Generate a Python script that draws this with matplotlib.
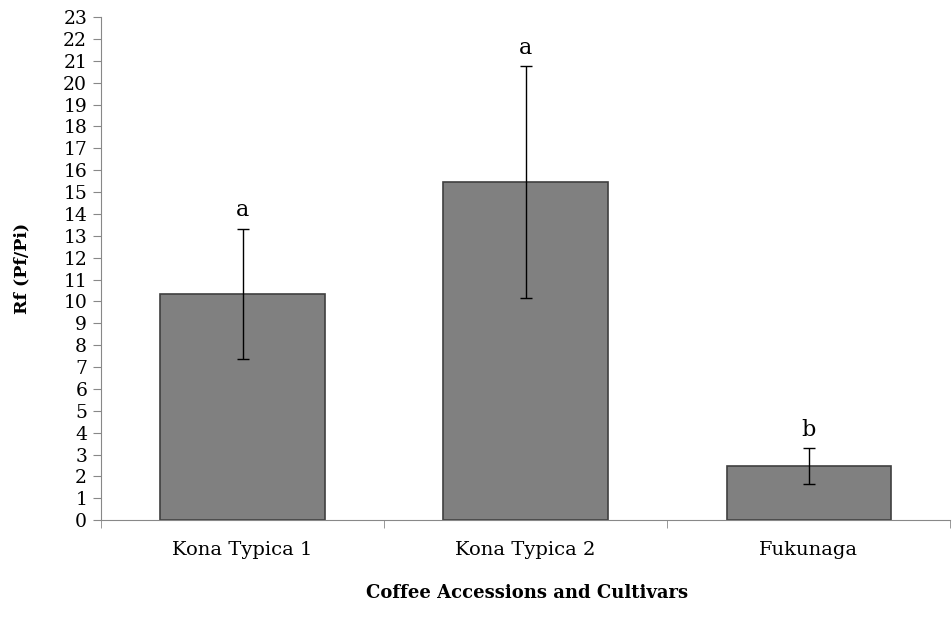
import matplotlib
matplotlib.use("Agg")
import matplotlib.pyplot as plt
import numpy as np

# Data
cultivars = ["Kona Typica 1", "Kona Typica 2", "Fukunaga"]
rf_means = [10.35, 15.45, 2.47]
rf_se = [2.98, 5.3, 0.82]
letters = ["a", "a", "b"]

plt.rcParams['font.family'] = ['DejaVu Serif']

fig = plt.figure(figsize=(9.53, 6.32), dpi=100)
ax = fig.add_axes([0.106, 0.177, 0.891, 0.796])

x = np.arange(len(cultivars))
ax.bar(x, rf_means, width=0.58, color="#808080", edgecolor="#404040", linewidth=1.2, zorder=2)
ax.errorbar(x, rf_means, yerr=rf_se, fmt="none", ecolor="black", elinewidth=1,
            capsize=4, capthick=1, zorder=3)

# Significance letters
for xi, m, s, lab in zip(x, rf_means, rf_se, letters):
    ax.text(xi, m + s + 0.35, lab, ha="center", va="bottom", fontsize=16)

ax.set_xlim(-0.5, len(cultivars) - 0.5)
ax.set_ylim(0, 23)
ax.set_yticks(range(0, 24))
ax.tick_params(axis="y", labelsize=13.5, length=6, color="#888888", pad=4)

# Category ticks sit at the boundaries
ax.set_xticks(x)
ax.set_xticklabels(cultivars, fontsize=14)
ax.tick_params(axis="x", length=0, pad=15)
ax.set_xticks(np.arange(-0.5, len(cultivars)), minor=True)
ax.tick_params(axis="x", which="minor", length=6, color="#888888")

for side in ["top", "right"]:
    ax.spines[side].set_visible(False)
for side in ["left", "bottom"]:
    ax.spines[side].set_color("#888888")

ax.set_ylabel("Rf (Pf/Pi)", fontsize=12.5, fontweight="bold")
ax.yaxis.set_label_coords(-0.083, 0.5)
fig.text(0.553, 0.062, "Coffee Accessions and Cultivars", fontsize=13, fontweight="bold",
         ha="center", va="center")

fig.savefig("out.png", dpi=100)
